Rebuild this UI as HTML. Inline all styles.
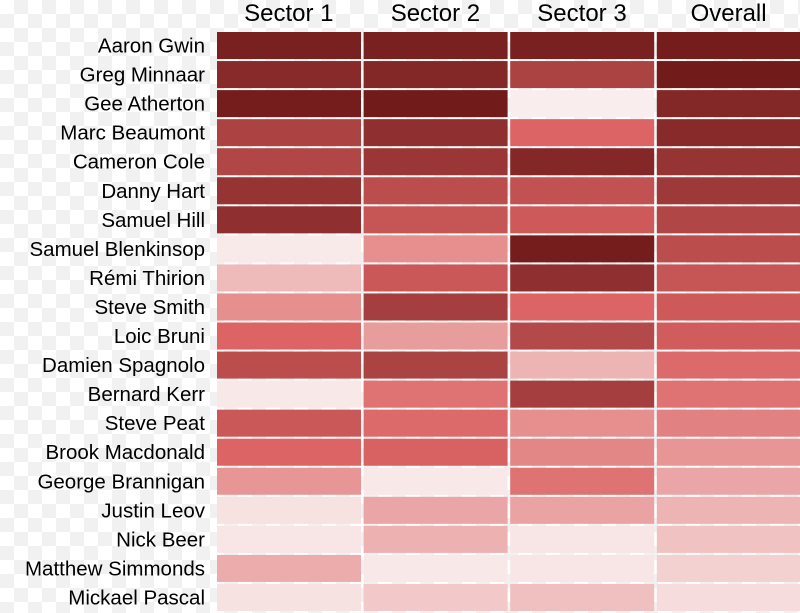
<!DOCTYPE html>
<html><head><meta charset="utf-8"><style>
body{margin:0;width:800px;height:613px;overflow:hidden;
background-color:#fff;background-image:linear-gradient(45deg,#f1f1f1 25%,transparent 25%,transparent 75%,#f1f1f1 75%),linear-gradient(45deg,#f1f1f1 25%,transparent 25%,transparent 75%,#f1f1f1 75%);background-size:28px 28px;background-position:0 0,14px 14px;}
svg{display:block}
text{font-family:"Liberation Sans",sans-serif;fill:#000}
</style></head><body>
<svg id="chart" width="800" height="613" xmlns="http://www.w3.org/2000/svg"></svg>
<script>
const riders=["Aaron Gwin","Greg Minnaar","Gee Atherton","Marc Beaumont","Cameron Cole","Danny Hart","Samuel Hill","Samuel Blenkinsop","Rémi Thirion","Steve Smith","Loic Bruni","Damien Spagnolo","Bernard Kerr","Steve Peat","Brook Macdonald","George Brannigan","Justin Leov","Nick Beer","Matthew Simmonds","Mickael Pascal"];
const columns=["Sector 1","Sector 2","Sector 3","Overall"];
const sector1=[0.95,0.88,0.97,0.72,0.7,0.82,0.85,0.03,0.2,0.35,0.5,0.65,0.04,0.58,0.5,0.33,0.06,0.05,0.25,0.06];
const sector2=[0.95,0.9,0.98,0.85,0.8,0.65,0.6,0.35,0.58,0.75,0.3,0.72,0.45,0.48,0.52,0.04,0.27,0.23,0.04,0.15];
const sector3=[0.95,0.72,0.02,0.5,0.9,0.62,0.57,0.97,0.85,0.5,0.68,0.22,0.75,0.35,0.38,0.45,0.28,0.05,0.05,0.18];
const overall=[0.97,0.98,0.9,0.88,0.82,0.78,0.7,0.65,0.6,0.57,0.55,0.48,0.45,0.4,0.33,0.27,0.22,0.17,0.12,0.08];
const series=[sector1,sector2,sector3,overall];
const NS="http://www.w3.org/2000/svg";
const svg=document.getElementById('chart');
const x0=217,colStep=146.6,y0=31,rowStep=29.05;
const xPos=i=>x0+i*colStep;
const yPos=j=>y0+j*rowStep;
function lerp(a,b,t){return a.map((v,i)=>Math.round(v+(b[i]-v)*t));}
function color(v){
  const lo=[251,243,243],mid=[220,100,100],hi=[110,24,24];
  const c=v<0.5?lerp(lo,mid,v/0.5):lerp(mid,hi,(v-0.5)/0.5);
  return `rgb(${c[0]},${c[1]},${c[2]})`;
}
columns.forEach((c,i)=>{
  const t=document.createElementNS(NS,'text');
  
  
  t.setAttribute('x',xPos(i)+colStep/2-1.5);t.setAttribute('y',21);
  t.setAttribute('text-anchor','middle');t.setAttribute('font-size','24');
  t.textContent=c;svg.appendChild(t);
});
riders.forEach((r,j)=>{
  const t=document.createElementNS(NS,'text');
  
  
  t.setAttribute('x',205);t.setAttribute('y',yPos(j)+rowStep/2+7);
  t.setAttribute('text-anchor','end');t.setAttribute('font-size','20.5');
  t.textContent=r;svg.appendChild(t);
  series.forEach((s,i)=>{
    const rc=document.createElementNS(NS,'rect');
    
    
    rc.setAttribute('x',xPos(i));rc.setAttribute('y',yPos(j)+1);
    rc.setAttribute('width',colStep-2.6);rc.setAttribute('height',rowStep-2);
    rc.setAttribute('fill',color(s[j]));svg.appendChild(rc);
  });
});
</script>
</body></html>
